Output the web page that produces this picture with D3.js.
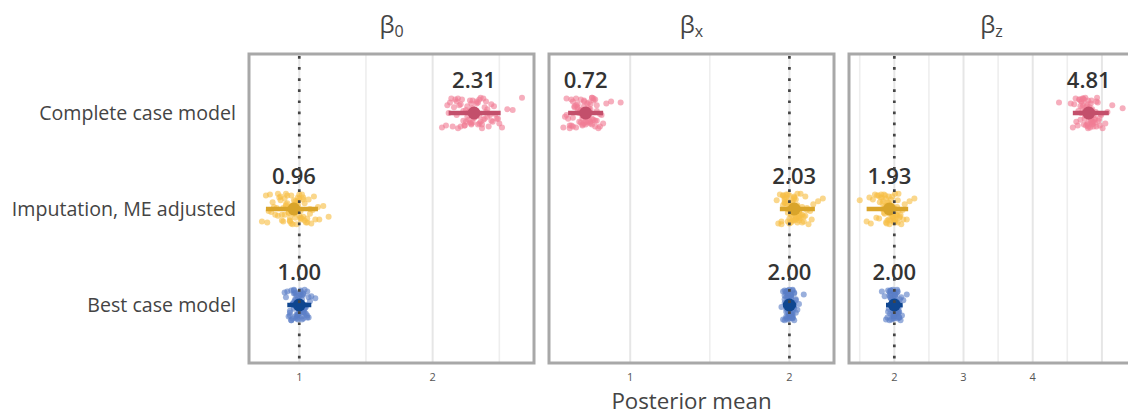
<!DOCTYPE html>
<html>
<head>
<meta charset="utf-8">
<script src="https://cdn.jsdelivr.net/npm/d3@7"></script>
<style>
    body { margin: 0; background: #fff; }
    #chart { width: 1128px; height: 416px; overflow: hidden; }
    text { font-family: "Open Sans", "Noto Sans", sans-serif; }
</style>
</head>
<body>
<div id="chart"></div>
<script>
// ---------- data ----------
var models = ["Complete case model", "Imputation, ME adjusted", "Best case model"];
var params = ["0", "x", "z"];              // subscripts of beta
var trueValues = [1, 2, 2];
var tickValues = [[1, 2], [1, 2], [2, 3, 4]];
var gridValues = [[1, 1.5, 2, 2.5], [1, 1.5, 2], [1.5, 2, 2.5, 3, 3.5, 4, 4.5, 5]];
var xDomains = [[0.623, 2.76], [0.49, 2.28], [1.345, 5.464]];

// posterior means (label + big dot), one row per parameter
var means = [
    [2.31, 0.96, 1.00],
    [0.72, 2.03, 2.00],
    [4.81, 1.93, 2.00]
];
// interval ends
var lower = [
    [2.12, 0.75, 0.91],
    [0.61, 1.94, 1.96],
    [4.58, 1.60, 1.88]
];
var upper = [
    [2.51, 1.14, 1.09],
    [0.83, 2.16, 2.04],
    [5.10, 2.20, 2.12]
];

// per-replicate posterior means (jittered points)
var b0Complete = [2.31,2.18,2.42,2.25,2.36,2.14,2.47,2.29,2.20,2.39,2.33,2.07,2.27,2.44,2.22,2.35,2.50,2.16,2.30,2.38,2.24,2.41,2.12,2.34,2.28,2.46,2.19,2.32,2.26,2.67,2.37,2.21,2.43,2.15,2.30,2.40,2.23,2.49,2.17,2.35,2.27,2.52,2.11,2.33,2.29,2.45,2.60,2.24,2.38,2.32,
    2.26,2.34,2.19,2.41,2.30,2.23,2.37,2.13,2.48,2.28,2.32,2.21,2.39,2.25,2.44,2.18,2.35,2.29,2.56,2.27,2.33,2.10,2.40,2.31,2.36];
var b0Imputed = [0.96,0.85,1.05,0.90,1.01,0.78,1.10,0.93,0.99,0.82,1.07,0.94,0.88,1.03,0.75,0.97,1.12,0.91,0.86,1.00,0.72,0.95,1.08,0.89,1.02,0.80,0.98,1.14,0.92,0.84,1.04,0.96,0.77,1.06,0.90,0.99,1.22,0.87,0.94,1.01,0.83,1.09,0.97,0.79,1.03,0.93,1.18,0.88,1.00,0.95,
    0.98,0.87,1.02,0.92,1.06,0.81,0.95,1.00,0.89,1.11,0.94,0.76,1.04,0.97,0.86,1.01,0.91,1.15,0.99,0.84,1.03,0.93,0.96,1.08,0.90];
var b0Best = [1.00,0.96,1.03,0.98,1.05,0.94,1.01,0.97,1.07,0.93,1.02,0.99,0.95,1.04,0.91,1.00,1.06,0.97,0.89,1.03,0.98,1.08,0.95,1.01,0.99,1.12,0.94,1.02,0.96,1.04,0.92,1.00,1.05,0.98,0.97,1.03,0.93,1.01,1.06,0.99,0.95,1.02,0.90,1.04,0.98,1.00,0.96,1.07,1.01,0.97,
    0.99,1.02,0.96,1.04,0.98,1.01,0.94,1.03,1.00,0.97,1.05,0.95,1.02,0.99,1.09,0.98,1.01,0.93,1.00,1.03,0.97,1.06,0.99,1.02,0.96];
var bxComplete = [0.72,0.64,0.78,0.69,0.75,0.60,0.81,0.70,0.66,0.76,0.73,0.58,0.68,0.79,0.63,0.74,0.83,0.67,0.71,0.77,0.62,0.75,0.69,0.94,0.73,0.65,0.80,0.70,0.59,0.76,0.72,0.67,0.82,0.64,0.74,0.71,0.78,0.61,0.69,0.75,0.73,0.66,0.79,0.70,0.85,0.68,0.74,0.63,0.77,0.72,
    0.71,0.76,0.66,0.73,0.69,0.79,0.62,0.74,0.70,0.77,0.68,0.81,0.65,0.72,0.75,0.60,0.78,0.71,0.67,0.74,0.88,0.70,0.73,0.64,0.76];
var bxImputed = [2.03,1.97,2.08,2.00,2.05,1.94,2.11,2.02,1.99,2.07,2.04,1.93,2.01,2.09,1.96,2.06,2.14,1.98,2.03,2.10,1.95,2.05,2.00,2.21,2.04,1.97,2.12,2.02,1.99,2.07,2.03,1.92,2.06,2.01,2.15,1.98,2.04,2.08,1.96,2.02,2.05,2.00,2.18,2.03,1.97,2.06,2.01,2.09,1.99,2.04,
    2.02,2.06,1.98,2.04,2.00,2.08,1.95,2.03,2.01,2.10,1.99,2.05,1.97,2.07,2.02,2.13,2.00,2.04,1.96,2.06,2.03,1.99,2.11,2.01,2.05];
var bxBest = [2.00,1.98,2.02,1.99,2.01,1.97,2.03,2.00,1.98,2.02,2.01,1.96,1.99,2.04,1.98,2.01,2.00,1.97,2.03,1.99,2.02,2.00,1.98,2.09,2.01,1.99,2.03,1.97,2.00,2.02,1.98,2.01,1.95,2.00,2.04,1.99,2.02,2.00,1.98,2.01,2.06,1.99,2.00,2.03,1.97,2.01,2.00,2.02,1.99,2.00,
    2.01,1.99,2.02,1.98,2.00,2.03,1.97,2.01,2.00,1.99,2.02,1.98,2.04,2.00,1.99,2.01,1.96,2.02,2.00,1.98,2.03,2.01,1.99,2.05,2.00];
var bzComplete = [4.81,4.70,4.92,4.76,4.87,4.62,4.98,4.79,4.73,4.90,4.84,4.58,4.75,4.95,4.67,4.83,5.05,4.72,4.80,4.89,4.65,4.86,4.78,4.38,4.85,4.69,5.01,4.77,4.82,4.93,4.74,4.60,4.88,4.80,5.30,4.71,4.84,4.96,4.68,4.79,4.91,4.83,5.15,4.76,4.55,4.86,4.81,4.97,4.73,4.85,
    4.78,4.86,4.72,4.83,4.90,4.66,4.80,4.94,4.75,4.85,4.70,4.88,4.82,4.63,4.79,4.99,4.74,4.87,4.81,4.69,4.92,4.77,5.08,4.84,4.76];
var bzImputed = [1.93,1.80,2.05,1.87,1.98,1.72,2.12,1.90,1.84,2.02,1.95,1.66,1.89,2.08,1.77,1.97,2.18,1.83,1.92,2.04,1.60,1.96,1.86,2.29,1.99,1.79,2.10,1.91,1.85,2.01,1.94,1.50,2.06,1.88,2.15,1.82,1.97,2.03,1.75,1.92,2.00,1.89,2.22,1.95,1.69,2.07,1.90,1.99,1.81,1.94,
    1.91,2.01,1.85,1.96,1.78,2.04,1.93,1.88,2.09,1.97,1.83,2.00,1.92,1.74,2.05,1.95,1.87,2.13,1.90,1.98,1.64,2.02,1.94,1.86,2.06];
var bzBest = [2.00,1.95,2.05,1.97,2.03,1.91,2.08,1.99,1.94,2.04,2.01,1.88,1.98,2.06,1.93,2.02,2.11,1.96,2.00,2.07,1.90,2.03,1.97,2.18,2.01,1.95,2.09,1.99,1.92,2.04,2.00,1.86,2.05,1.98,2.13,1.94,2.02,2.06,1.82,1.99,2.03,1.96,2.10,2.00,1.93,2.04,1.98,2.07,1.95,2.01,
    1.99,2.03,1.95,2.01,1.97,2.06,1.93,2.02,1.98,2.04,1.96,2.00,2.08,1.94,2.01,1.97,2.05,1.99,2.03,1.91,2.00,2.07,1.96,2.02,1.98];

// vertical jitter (fraction of a row)
var jitter = [0.05,-0.12,0.14,-0.03,0.09,-0.15,0.01,0.12,-0.08,0.06,-0.10,0.15,-0.01,0.08,-0.14,0.03,0.11,-0.06,-0.13,0.07,0.13,-0.04,0.00,-0.11,0.10,-0.07,0.16,-0.02,0.04,-0.16,0.12,-0.09,0.02,0.14,-0.05,-0.12,0.08,0.06,-0.14,0.11,-0.01,0.15,-0.08,0.03,-0.10,0.09,-0.03,0.13,-0.15,0.01,
    -0.07,0.12,-0.15,0.04,0.10,-0.02,0.16,-0.11,0.06,-0.13,0.00,0.14,-0.06,0.09,-0.09,0.02,-0.14,0.11,-0.04,0.07,-0.12,0.13,-0.01,0.05,-0.16];

var replicates = [
    [b0Complete, b0Imputed, b0Best],
    [bxComplete, bxImputed, bxBest],
    [bzComplete, bzImputed, bzBest]
];

var pointColors = ["#f07d94", "#f7bf45", "#5a7ec6"];
var meanColors = ["#c34f6b", "#d9a42a", "#0f4690"];

// ---------- layout ----------
var viewboxWidth = 1128,
    viewboxHeight = 416,
    panelLeft = 249,
    panelWidth = 285,
    panelGap = 15,
    panelTop = 54,
    panelBottom = 363;

var y = d3.scalePoint()
    .domain(models)
    .range([113, 305]);
var rowStep = y.step();

var svg = d3.select("#chart").append("svg")
    .attr("width", viewboxWidth)
    .attr("height", viewboxHeight);

// y axis labels
svg.append("g")
    .selectAll("text")
    .data(models)
    .enter()
    .append("text")
    .attr("x", 236)
    .attr("y", function (d) { return y(d); })
    .attr("dy", "0.36em")
    .attr("text-anchor", "end")
    .attr("fill", "#444")
    .style("font-size", "19.6px")
    .text(function (d) { return d; });

params.forEach(function (p, i) {
    var x0 = panelLeft + i * (panelWidth + panelGap);
    var x = d3.scaleLinear()
        .domain(xDomains[i])
        .range([x0, x0 + panelWidth]);

    var g = svg.append("g").attr("class", "panel");

    // grid lines
    g.selectAll(".grid")
        .data(gridValues[i])
        .enter()
        .append("line")
        .attr("class", "grid")
        .attr("x1", function (d) { return x(d); })
        .attr("x2", function (d) { return x(d); })
        .attr("y1", panelTop)
        .attr("y2", panelBottom)
        .attr("stroke", function (d) { return d % 1 === 0 ? "#e6e6e6" : "#eeeeee"; })
        .attr("stroke-width", function (d) { return d % 1 === 0 ? 2 : 1.6; });

    // jittered replicate means
    models.forEach(function (m, j) {
        g.selectAll(".pt" + j)
            .data(replicates[i][j])
            .enter()
            .append("circle")
            .attr("class", "pt" + j)
            .attr("cx", function (d) { return x(d); })
            .attr("cy", function (d, k) { return y(m) + jitter[k % jitter.length] * rowStep; })
            .attr("r", 3)
            .attr("fill", pointColors[j])
            .attr("fill-opacity", 0.62);
    });

    // intervals
    g.selectAll(".interval")
        .data(models)
        .enter()
        .append("line")
        .attr("class", "interval")
        .attr("x1", function (d, j) { return x(lower[i][j]); })
        .attr("x2", function (d, j) { return x(upper[i][j]); })
        .attr("y1", function (d) { return y(d); })
        .attr("y2", function (d) { return y(d); })
        .attr("stroke", function (d, j) { return meanColors[j]; })
        .attr("stroke-width", 4.5);

    // means
    g.selectAll(".mean")
        .data(models)
        .enter()
        .append("circle")
        .attr("class", "mean")
        .attr("cx", function (d, j) { return x(means[i][j]); })
        .attr("cy", function (d) { return y(d); })
        .attr("r", 6.5)
        .attr("fill", function (d, j) { return meanColors[j]; });

    // mean labels
    g.selectAll(".label")
        .data(models)
        .enter()
        .append("text")
        .attr("class", "label")
        .attr("x", function (d, j) { return x(means[i][j]); })
        .attr("y", function (d) { return y(d) - 25; })
        .attr("text-anchor", "middle")
        .attr("fill", "#333")
        .style("font-size", "22px")
        .style("font-weight", 600)
        .text(function (d, j) { return d3.format(".2f")(means[i][j]); });

    // true value
    g.append("line")
        .attr("x1", x(trueValues[i]))
        .attr("x2", x(trueValues[i]))
        .attr("y1", panelTop + 2)
        .attr("y2", panelBottom)
        .attr("stroke", "#444")
        .attr("stroke-width", 2.7)
        .attr("stroke-dasharray", "2.7 8.4");

    // panel border
    g.append("rect")
        .attr("x", x0)
        .attr("y", panelTop)
        .attr("width", panelWidth)
        .attr("height", panelBottom - panelTop)
        .attr("fill", "none")
        .attr("stroke", "#a8a8a8")
        .attr("stroke-width", 3);

    // tick labels
    g.selectAll(".tick")
        .data(tickValues[i])
        .enter()
        .append("text")
        .attr("class", "tick")
        .attr("x", function (d) { return x(d); })
        .attr("y", 381)
        .attr("text-anchor", "middle")
        .attr("fill", "#555")
        .style("font-size", "11px")
        .text(function (d) { return d; });

    // strip title
    var title = g.append("text")
        .attr("x", x0 + panelWidth / 2)
        .attr("y", 33)
        .attr("text-anchor", "middle")
        .attr("fill", "#444")
        .style("font-size", "24px");
    title.append("tspan").text("β");
    title.append("tspan")
        .attr("dy", 4)
        .style("font-size", "16px")
        .text(p);
});

// x axis title
svg.append("text")
    .attr("x", panelLeft + (3 * panelWidth + 2 * panelGap) / 2)
    .attr("y", 409)
    .attr("text-anchor", "middle")
    .attr("fill", "#444")
    .style("font-size", "22.3px")
    .text("Posterior mean");
</script>
</body>
</html>
